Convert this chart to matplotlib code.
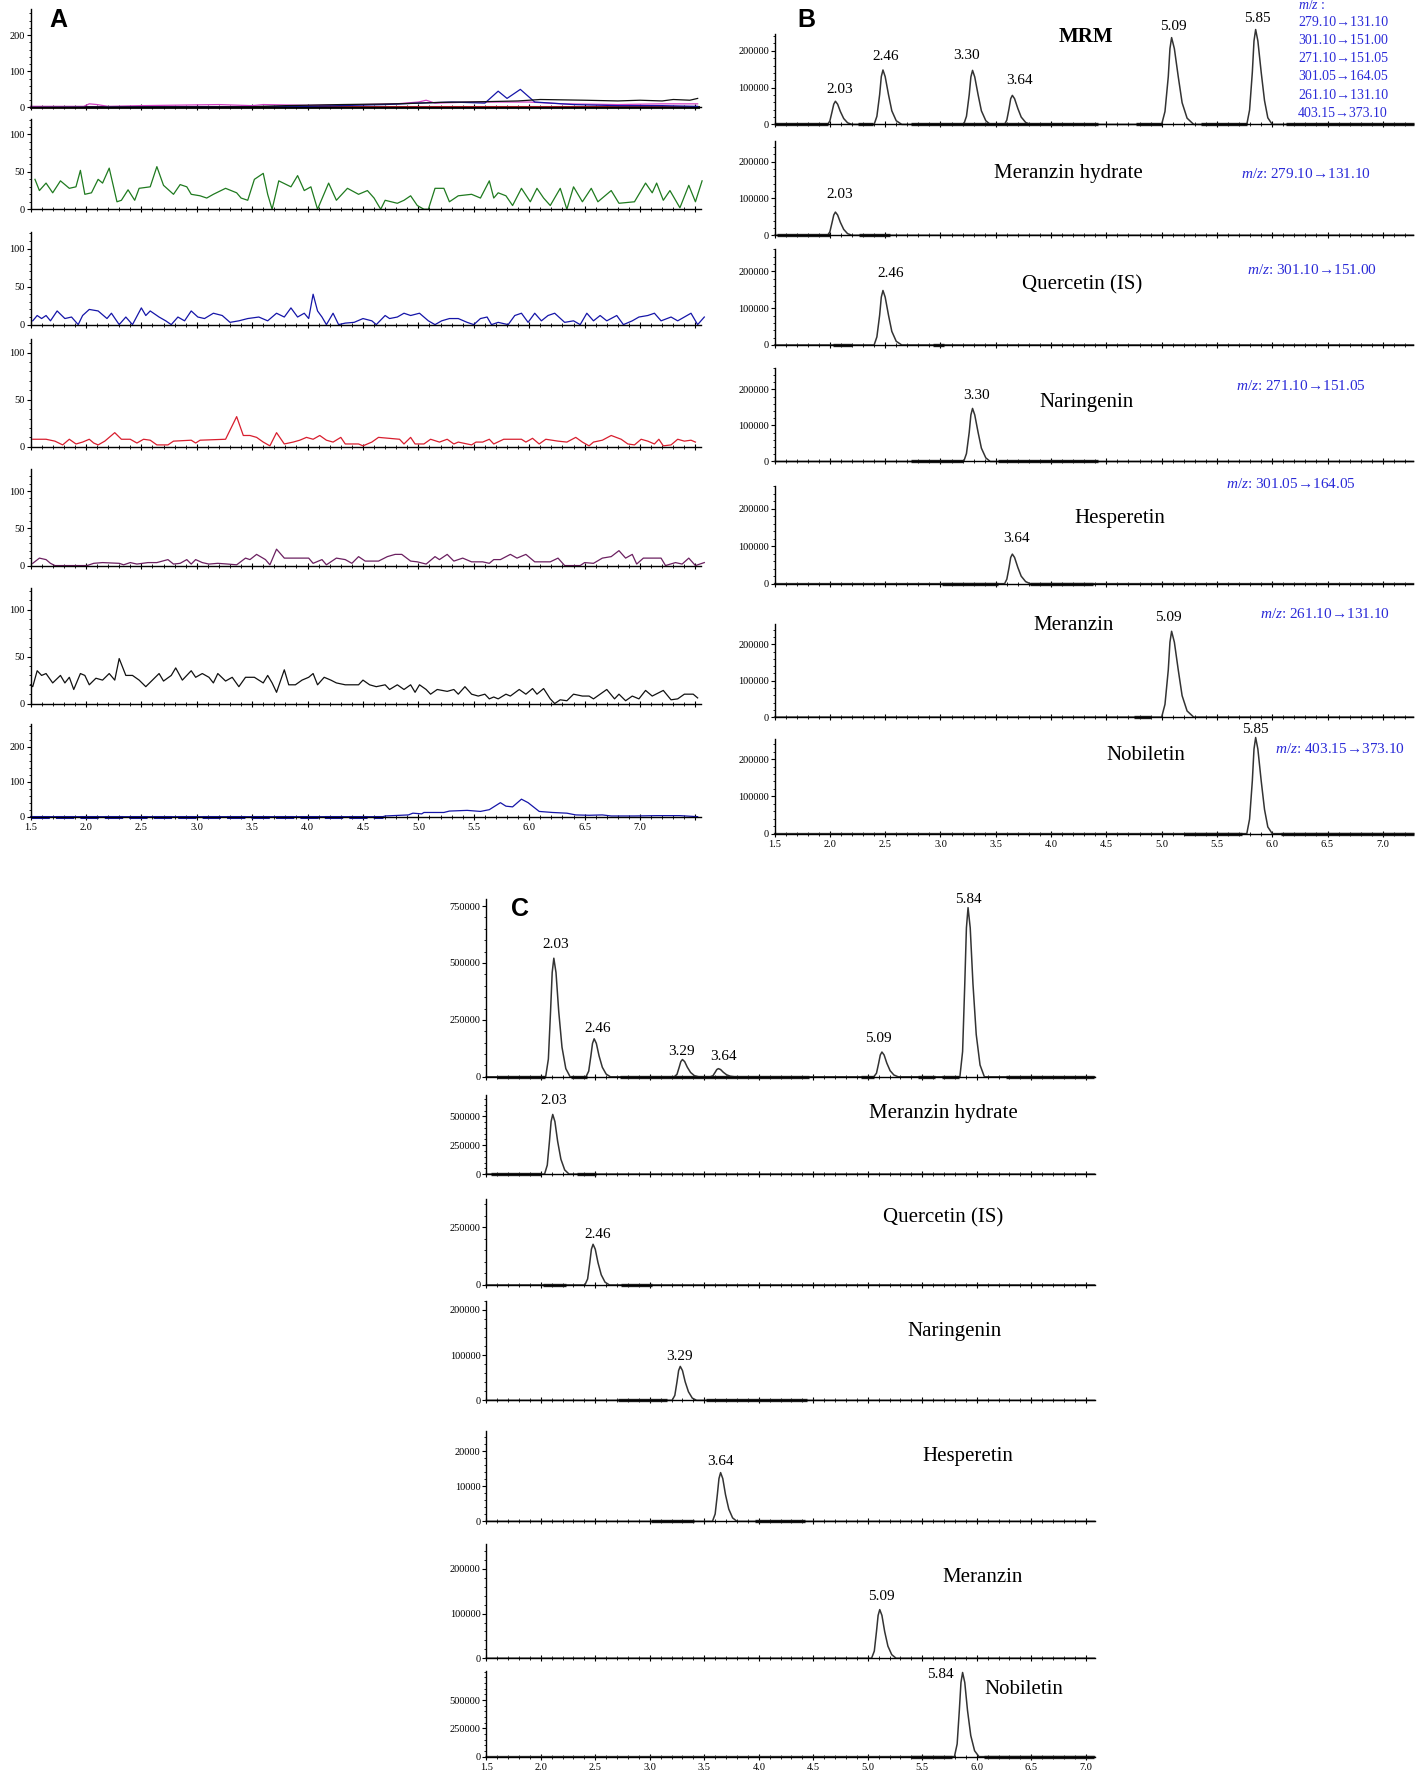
import numpy as np
import matplotlib
matplotlib.use('Agg')
import matplotlib.pyplot as plt
from matplotlib.ticker import MultipleLocator, AutoMinorLocator

plt.rcParams['font.family'] = ['Liberation Serif', 'DejaVu Serif']
plt.rcParams['mathtext.fontset'] = 'custom'
plt.rcParams['mathtext.it'] = 'Liberation Serif:italic'
plt.rcParams['mathtext.rm'] = 'Liberation Serif'

# ---------------- panel A: blank plasma traces (time, intensity) ----------------
a1_black_t = [1.5, 3.5, 3.8, 4.3, 4.8, 5.2, 5.6, 5.9, 6.1, 6.5, 6.8, 7.0, 7.2, 7.3, 7.45, 7.52]
a1_black_y = [0, 2, 5, 8, 10, 14, 16, 18, 22, 20, 18, 20, 18, 22, 20, 25]
a1_mag_t = [1.5, 1.98, 2.03, 2.1, 2.2, 2.5, 3.2, 3.5, 3.6, 4.0, 4.5, 4.8, 5.0, 5.07, 5.15, 5.5, 6.0, 6.3, 6.8, 7.2, 7.52]
a1_mag_y = [3, 3, 10, 8, 3, 5, 8, 5, 8, 6, 8, 10, 15, 20, 12, 15, 15, 10, 8, 10, 10]
a1_blue_t = [1.5, 3.0, 4.0, 4.7, 5.0, 5.3, 5.6, 5.72, 5.8, 5.92, 6.05, 6.4, 6.8, 7.2, 7.52]
a1_blue_y = [0, 2, 3, 8, 12, 15, 12, 45, 25, 50, 15, 8, 5, 5, 3]
a1_red_t = [1.5, 4.0, 5.0, 6.0, 7.52]
a1_red_y = [0, 1, 2, 2, 1]

a2_t = [1.54, 1.58, 1.64, 1.70, 1.77, 1.85, 1.91, 1.95, 1.99, 2.05, 2.11, 2.15, 2.21, 2.28, 2.32,
        2.38, 2.44, 2.48, 2.58, 2.64, 2.70, 2.79, 2.85, 2.91, 2.95, 3.03, 3.09, 3.15, 3.26, 3.36,
        3.40, 3.46, 3.52, 3.60, 3.64, 3.68, 3.74, 3.85, 3.91, 3.97, 4.03, 4.09, 4.19, 4.26, 4.36,
        4.46, 4.54, 4.60, 4.66, 4.70, 4.81, 4.87, 4.93, 4.99, 5.05, 5.09, 5.15, 5.23, 5.28, 5.36,
        5.48, 5.56, 5.64, 5.68, 5.72, 5.79, 5.85, 5.93, 6.01, 6.07, 6.13, 6.19, 6.28, 6.34, 6.40,
        6.48, 6.56, 6.62, 6.74, 6.81, 6.95, 7.05, 7.11, 7.15, 7.21, 7.27, 7.36, 7.44, 7.50, 7.56]
a2_y = [40, 25, 35, 22, 38, 28, 30, 52, 20, 22, 40, 35, 55, 10, 12,
        26, 12, 28, 30, 57, 32, 20, 33, 30, 20, 18, 15, 20, 28, 22,
        15, 12, 40, 48, 20, 0, 38, 30, 45, 25, 30, 0, 35, 12, 28,
        20, 25, 15, 0, 12, 8, 12, 18, 5, 0, 0, 28, 28, 10, 18,
        20, 15, 38, 15, 22, 18, 5, 28, 10, 28, 15, 5, 28, 0, 30,
        10, 28, 10, 25, 8, 10, 35, 22, 35, 12, 25, 2, 32, 10, 38]

a3_t = [1.52, 1.56, 1.60, 1.64, 1.68, 1.74, 1.81, 1.87, 1.93, 1.97, 2.03, 2.11, 2.19, 2.23, 2.30,
        2.36, 2.42, 2.50, 2.54, 2.58, 2.66, 2.72, 2.77, 2.83, 2.89, 2.95, 3.01, 3.07, 3.15, 3.23,
        3.30, 3.38, 3.46, 3.56, 3.64, 3.72, 3.79, 3.85, 3.91, 3.97, 4.01, 4.05, 4.09, 4.13, 4.17,
        4.23, 4.28, 4.34, 4.42, 4.50, 4.58, 4.62, 4.70, 4.74, 4.81, 4.87, 4.93, 5.01, 5.09, 5.15,
        5.21, 5.28, 5.36, 5.44, 5.50, 5.56, 5.62, 5.66, 5.72, 5.81, 5.87, 5.93, 5.99, 6.05, 6.11,
        6.17, 6.23, 6.32, 6.40, 6.46, 6.52, 6.58, 6.64, 6.70, 6.79, 6.85, 6.93, 6.99, 7.07, 7.13,
        7.19, 7.28, 7.34, 7.40, 7.46, 7.52, 7.58]
a3_y = [5, 12, 8, 12, 5, 18, 8, 10, 0, 12, 20, 18, 8, 15, 0,
        10, 0, 22, 12, 18, 10, 5, 0, 10, 5, 18, 10, 8, 15, 12,
        3, 5, 8, 10, 5, 15, 10, 22, 10, 15, 8, 40, 18, 10, 0,
        15, 0, 2, 3, 8, 5, 0, 12, 8, 10, 15, 12, 15, 5, 0,
        5, 8, 8, 3, 0, 8, 10, 0, 3, 0, 12, 15, 3, 15, 5,
        12, 15, 3, 5, 0, 15, 5, 12, 5, 12, 0, 5, 10, 12, 15,
        5, 10, 5, 10, 15, 0, 10]

a4_t = [1.52, 1.64, 1.72, 1.79, 1.85, 1.91, 1.97, 2.03, 2.07, 2.11, 2.17, 2.26, 2.32, 2.40, 2.46,
        2.52, 2.58, 2.64, 2.74, 2.79, 2.95, 2.99, 3.03, 3.26, 3.36, 3.42, 3.48, 3.54, 3.60, 3.66,
        3.72, 3.79, 3.87, 3.93, 3.99, 4.05, 4.11, 4.17, 4.23, 4.30, 4.34, 4.46, 4.50, 4.58, 4.64,
        4.83, 4.87, 4.93, 4.97, 5.05, 5.11, 5.19, 5.26, 5.32, 5.36, 5.48, 5.52, 5.58, 5.64, 5.68,
        5.77, 5.93, 5.97, 6.03, 6.09, 6.15, 6.26, 6.34, 6.42, 6.48, 6.54, 6.58, 6.66, 6.74, 6.83,
        6.89, 6.95, 7.01, 7.07, 7.13, 7.17, 7.21, 7.28, 7.34, 7.40, 7.46, 7.50]
a4_y = [8, 8, 6, 2, 8, 3, 5, 8, 4, 2, 6, 15, 8, 8, 4,
        8, 7, 2, 2, 6, 7, 4, 7, 8, 32, 12, 12, 10, 5, 1,
        15, 3, 5, 7, 10, 8, 12, 7, 5, 10, 3, 3, 1, 5, 10,
        8, 3, 10, 3, 3, 8, 5, 8, 3, 5, 2, 5, 5, 8, 3,
        8, 8, 5, 9, 3, 8, 6, 5, 10, 5, 1, 5, 7, 12, 8,
        3, 2, 8, 6, 3, 8, 1, 2, 8, 6, 7, 5]

a5_t = [1.52, 1.58, 1.64, 1.68, 1.72, 2.01, 2.07, 2.15, 2.30, 2.34, 2.40, 2.46, 2.56, 2.64, 2.74,
        2.79, 2.85, 2.91, 2.95, 2.99, 3.05, 3.11, 3.19, 3.28, 3.36, 3.44, 3.48, 3.54, 3.62, 3.66,
        3.72, 3.79, 4.01, 4.05, 4.13, 4.17, 4.26, 4.34, 4.40, 4.46, 4.52, 4.64, 4.72, 4.79, 4.85,
        4.93, 4.99, 5.07, 5.15, 5.19, 5.26, 5.32, 5.40, 5.48, 5.58, 5.64, 5.68, 5.74, 5.83, 5.89,
        5.97, 6.05, 6.19, 6.26, 6.32, 6.46, 6.50, 6.58, 6.66, 6.74, 6.81, 6.87, 6.93, 6.97, 7.03,
        7.19, 7.23, 7.32, 7.38, 7.44, 7.50, 7.58]
a5_y = [3, 10, 8, 3, 0, 0, 3, 4, 3, 1, 4, 2, 4, 4, 8,
        2, 3, 8, 2, 8, 4, 2, 3, 2, 1, 10, 8, 15, 8, 1,
        22, 10, 10, 3, 8, 1, 10, 8, 3, 12, 6, 6, 12, 15, 15,
        6, 5, 2, 12, 8, 15, 6, 10, 5, 5, 3, 8, 8, 15, 10,
        15, 5, 5, 10, 0, 0, 4, 3, 10, 12, 20, 10, 15, 2, 10,
        10, 0, 4, 2, 10, 0, 4]

a6_t = [1.50, 1.52, 1.56, 1.60, 1.64, 1.70, 1.77, 1.81, 1.85, 1.89, 1.95, 1.99, 2.03, 2.09, 2.15,
        2.21, 2.26, 2.30, 2.36, 2.42, 2.48, 2.54, 2.60, 2.66, 2.70, 2.77, 2.81, 2.87, 2.95, 2.99,
        3.05, 3.11, 3.15, 3.19, 3.26, 3.32, 3.38, 3.44, 3.52, 3.60, 3.64, 3.68, 3.72, 3.79, 3.83,
        3.89, 3.95, 4.01, 4.05, 4.09, 4.15, 4.21, 4.26, 4.34, 4.46, 4.50, 4.56, 4.62, 4.70, 4.74,
        4.81, 4.87, 4.93, 4.97, 5.01, 5.07, 5.11, 5.17, 5.26, 5.32, 5.36, 5.42, 5.48, 5.54, 5.60,
        5.64, 5.68, 5.72, 5.79, 5.83, 5.91, 5.97, 6.03, 6.07, 6.13, 6.19, 6.23, 6.28, 6.34, 6.40,
        6.48, 6.54, 6.58, 6.70, 6.77, 6.81, 6.87, 6.93, 6.99, 7.05, 7.11, 7.21, 7.28, 7.34, 7.40,
        7.48, 7.52]
a6_y = [20, 18, 35, 30, 32, 22, 30, 22, 28, 15, 32, 30, 20, 27, 25,
        32, 25, 48, 30, 30, 25, 18, 25, 32, 24, 30, 38, 25, 35, 28,
        32, 28, 22, 32, 24, 28, 18, 28, 28, 22, 30, 22, 12, 36, 20,
        20, 25, 28, 32, 20, 28, 25, 22, 20, 20, 25, 20, 18, 20, 15,
        20, 15, 20, 12, 20, 15, 10, 15, 13, 15, 10, 18, 10, 8, 10,
        5, 7, 5, 10, 8, 15, 10, 16, 10, 16, 5, 0, 4, 3, 10,
        8, 8, 5, 15, 5, 10, 3, 8, 5, 14, 8, 14, 4, 5, 10,
        10, 6]

a7_t = [1.5, 4.68, 4.70, 4.91, 4.95, 5.03, 5.05, 5.23, 5.28, 5.44, 5.56, 5.64, 5.74, 5.79, 5.85,
        5.93, 5.99, 6.09, 6.21, 6.34, 6.42, 6.54, 6.66, 6.74, 6.95, 7.15, 7.36, 7.52]
a7_y = [0, 0, 2, 5, 10, 8, 12, 12, 16, 18, 15, 20, 40, 30, 28,
        50, 40, 15, 12, 10, 5, 4, 5, 2, 2, 3, 3, 0]

# ---------------- panel B: standard solution peaks (time, intensity) ----------------
b_mh_t = [1.98, 2.00, 2.02, 2.035, 2.05, 2.07, 2.095, 2.125, 2.16, 2.20]
b_mh_y = [0, 9500, 35000, 55000, 63000, 55000, 35000, 16000, 4400, 0]
b_q_t = [2.40, 2.425, 2.45, 2.465, 2.48, 2.50, 2.53, 2.56, 2.60, 2.65]
b_q_y = [0, 22000, 81000, 130000, 148000, 130000, 81000, 37000, 10000, 0]
b_n_t = [3.21, 3.235, 3.26, 3.275, 3.29, 3.31, 3.34, 3.37, 3.41, 3.45]
b_n_y = [0, 22000, 81000, 129000, 147000, 129000, 81000, 37000, 10000, 0]
b_h_t = [3.58, 3.60, 3.62, 3.635, 3.65, 3.67, 3.70, 3.73, 3.77, 3.81]
b_h_y = [0, 12000, 43000, 70000, 79000, 70000, 43000, 20000, 5500, 0]
b_m_t = [5.00, 5.03, 5.06, 5.075, 5.09, 5.115, 5.15, 5.185, 5.23, 5.29]
b_m_y = [0, 35000, 130000, 206000, 236000, 206000, 130000, 59000, 17000, 0]
b_nob_t = [5.77, 5.795, 5.82, 5.835, 5.85, 5.87, 5.90, 5.93, 5.96, 6.00]
b_nob_y = [0, 39000, 142000, 227000, 258000, 227000, 142000, 65000, 18000, 0]

# ---------------- panel C: plasma sample peaks ----------------
c_mrm1_t = [2.045, 2.07, 2.09, 2.105, 2.12, 2.14, 2.165, 2.195, 2.23, 2.27]
c_mrm1_y = [0, 78000, 287000, 458000, 521000, 458000, 287000, 130000, 36000, 0]
c_mrm2_t = [2.415, 2.44, 2.46, 2.475, 2.49, 2.51, 2.535, 2.565, 2.60, 2.64]
c_mrm2_y = [0, 25000, 92000, 147000, 167000, 147000, 92000, 42000, 12000, 0]
c_mrm3_t = [3.225, 3.25, 3.27, 3.285, 3.30, 3.32, 3.345, 3.375, 3.41, 3.45]
c_mrm3_y = [0, 11000, 42000, 67000, 76000, 67000, 42000, 19000, 5000, 0]
c_mrm4_t = [3.555, 3.58, 3.60, 3.615, 3.63, 3.65, 3.675, 3.705, 3.74, 3.78]
c_mrm4_y = [0, 5000, 20000, 32000, 36000, 32000, 20000, 9000, 2500, 0]
c_mrm5_t = [5.055, 5.08, 5.10, 5.115, 5.13, 5.15, 5.175, 5.205, 5.24, 5.28]
c_mrm5_y = [0, 16000, 60000, 96000, 109000, 96000, 60000, 27000, 8000, 0]
c_mrm6_t = [5.845, 5.87, 5.89, 5.905, 5.92, 5.94, 5.965, 5.995, 6.03, 6.07]
c_mrm6_y = [0, 111000, 409000, 654000, 743000, 654000, 409000, 186000, 52000, 0]

c_mh_t = [2.035, 2.06, 2.08, 2.095, 2.11, 2.13, 2.155, 2.185, 2.22, 2.26]
c_mh_y = [0, 78000, 284000, 455000, 517000, 455000, 284000, 129000, 36000, 0]
c_q_t = [2.405, 2.43, 2.45, 2.465, 2.48, 2.50, 2.525, 2.555, 2.59, 2.63]
c_q_y = [0, 26000, 97000, 155000, 176000, 155000, 97000, 44000, 12000, 0]
c_n_t = [3.205, 3.23, 3.25, 3.265, 3.28, 3.30, 3.325, 3.355, 3.39, 3.43]
c_n_y = [0, 11000, 41000, 66000, 75000, 66000, 41000, 19000, 5000, 0]
c_h_t = [3.575, 3.60, 3.62, 3.635, 3.65, 3.67, 3.695, 3.725, 3.76, 3.80]
c_h_y = [0, 2100, 7600, 12200, 13900, 12200, 7600, 3500, 1000, 0]
c_m_t = [5.035, 5.06, 5.08, 5.095, 5.11, 5.13, 5.155, 5.185, 5.22, 5.26]
c_m_y = [0, 16000, 60000, 96000, 109000, 96000, 60000, 27000, 8000, 0]
c_nob_t = [5.795, 5.82, 5.84, 5.855, 5.87, 5.89, 5.915, 5.945, 5.98, 6.02]
c_nob_y = [0, 112000, 409000, 655000, 744000, 655000, 409000, 186000, 52000, 0]

# thick baseline segments (time ranges of acquisition windows)
b_seg = [[(1.5, 1.98), (2.25, 2.39), (2.73, 4.42), (4.77, 5.0), (5.36, 5.77), (6.12, 7.28)],
         [(1.52, 2.0), (2.26, 2.54)],
         [(2.03, 2.2), (2.93, 3.03)],
         [(2.73, 3.2), (3.52, 4.42)],
         [(3.01, 3.52), (3.81, 4.38)],
         [(4.75, 4.9)],
         [(5.2, 5.73), (6.08, 7.28)]]
c_seg = [[(1.6, 2.04), (2.28, 2.42), (2.73, 4.46), (4.94, 5.06), (5.46, 5.62), (5.68, 5.84), (6.27, 7.08)],
         [(1.54, 2.0), (2.33, 2.51)],
         [(2.02, 2.23), (2.74, 3.02)],
         [(2.71, 3.16), (3.52, 4.44)],
         [(3.01, 3.41), (3.97, 4.42)],
         [],
         [(5.40, 5.77), (6.07, 7.08)]]

compounds = ['Meranzin hydrate', 'Quercetin (IS)', 'Naringenin', 'Hesperetin', 'Meranzin', 'Nobiletin']
transitions = ['279.10\u2192131.10', '301.10\u2192151.00', '271.10\u2192151.05',
               '301.05\u2192164.05', '261.10\u2192131.10', '403.15\u2192373.10']
b_rt_labels = ['2.03', '2.46', '3.30', '3.64', '5.09', '5.85']
c_rt_labels = ['2.03', '2.46', '3.29', '3.64', '5.09', '5.84']
x_labels = ['1.5', '2.0', '2.5', '3.0', '3.5', '4.0', '4.5', '5.0', '5.5', '6.0', '6.5', '7.0']

# layout in reference pixels
W, H = 1254.0, 1571.0
PEAK = '#333333'


def box(left, right, zero, top):
  return [left / W, 1 - zero / H, (right - left) / W, (zero - top) / H]


def style(ax, xmax, ytop, yticks, show_x):
  ax.set_xlim(1.5, xmax)
  ax.set_ylim(0, ytop)
  for s in ['top', 'right']:
    ax.spines[s].set_visible(False)
  for s in ['left', 'bottom']:
    ax.spines[s].set_linewidth(1.0)
  ax.set_facecolor('none')
  ax.set_xticks(np.arange(1.5, xmax + 0.001, 0.5))
  ax.xaxis.set_minor_locator(MultipleLocator(0.1))
  ax.set_yticks(yticks)
  ax.set_yticklabels([str(v) for v in yticks])
  ax.yaxis.set_minor_locator(AutoMinorLocator(5))
  ax.tick_params(axis='x', which='major', direction='inout', length=5, width=0.8, labelsize=7.5, pad=2)
  ax.tick_params(axis='x', which='minor', direction='inout', length=3, width=0.6)
  ax.tick_params(axis='y', which='major', direction='out', length=3, width=0.8, labelsize=7.5, pad=1)
  ax.tick_params(axis='y', which='minor', direction='out', length=1.5, width=0.6)
  if show_x:
    n = len(ax.get_xticks())
    ax.set_xticklabels((x_labels + [''] * n)[:n])
  else:
    ax.tick_params(axis='x', labelbottom=False)


def trace(peaks, x0, x1):
  t = [x0]
  y = [0]
  for pt, py in peaks:
    t += pt
    y += py
  t.append(x1)
  y.append(0)
  return t, y


def txt(fig, s, x, y, **kw):
  fig.text(x / W, 1 - y / H, s, ha=kw.pop('ha', 'center'), va=kw.pop('va', 'center'), **kw)


fig = plt.figure(figsize=(14.18, 17.77), dpi=100)

# ---------------- A ----------------
a_x1 = 1.5 + (620 - 27) / 98.0
a_boxes = [(95, 8, 272, [0, 100, 200]), (185, 105, 121, [0, 50, 100]), (287, 205, 122, [0, 50, 100]),
           (395, 300, 114, [0, 50, 100]), (500, 415, 129, [0, 50, 100]), (622, 520, 123, [0, 50, 100]),
           (722, 640, 265, [0, 100, 200])]
a_lines = [
  [(a1_red_t, a1_red_y, '#d81e2e'), (a1_mag_t, a1_mag_y, '#d040c0'),
   (a1_blue_t, a1_blue_y, '#1515a8'), (a1_black_t, a1_black_y, '#111111')],
  [(a2_t, a2_y, '#1f7a1f')],
  [(a3_t, a3_y, '#1515a8')],
  [(a4_t, a4_y, '#d81e2e')],
  [(a5_t, a5_y, '#6b2060')],
  [(a6_t, a6_y, '#111111')],
  [(a7_t, a7_y, '#1515a8')],
]
for i, (zero, top, ytop, yt) in enumerate(a_boxes):
  ax = fig.add_axes(box(27, 620, zero, top))
  style(ax, a_x1, ytop, yt, i == 6)
  for t, y, c in a_lines[i]:
    ax.plot(t, y, color=c, lw=0.9, clip_on=False)
  if i == 0:
    ax.plot([1.5, 7.52], [0, 0], color='#202020', lw=2.2, clip_on=False, zorder=1)
  if i == 6:
    ax.plot([1.5, 4.68], [0, 0], color='#1515a8', lw=2.2, ls=(0, (6, 2)), clip_on=False)

# ---------------- B ----------------
b_x1 = 1.5 + (1250 - 685) / 97.8
b_peaks = [(b_mh_t, b_mh_y), (b_q_t, b_q_y), (b_n_t, b_n_y), (b_h_t, b_h_y), (b_m_t, b_m_y), (b_nob_t, b_nob_y)]
b_boxes = [(110, 30, 246000), (208, 125, 255000), (305, 220, 261000), (408, 325, 260000),
           (516, 430, 260000), (634, 552, 255000), (737, 653, 255000)]
for i, (zero, top, ytop) in enumerate(b_boxes):
  ax = fig.add_axes(box(685, 1250, zero, top))
  style(ax, b_x1, ytop, [0, 100000, 200000], i == 6)
  pk = b_peaks if i == 0 else [b_peaks[i - 1]]
  t, y = trace(pk, 1.5, b_x1)
  ax.plot(t, y, color=PEAK, lw=1.1, clip_on=False)
  for a, b in b_seg[i]:
    ax.plot([a, b], [0, 0], color='#202020', lw=2.4, solid_capstyle='butt', clip_on=False)

# ---------------- C ----------------
c_x1 = 1.5 + (968 - 430) / 96.4
c_mrm = [(c_mrm1_t, c_mrm1_y), (c_mrm2_t, c_mrm2_y), (c_mrm3_t, c_mrm3_y),
         (c_mrm4_t, c_mrm4_y), (c_mrm5_t, c_mrm5_y), (c_mrm6_t, c_mrm6_y)]
c_single = [(c_mh_t, c_mh_y), (c_q_t, c_q_y), (c_n_t, c_n_y), (c_h_t, c_h_y), (c_m_t, c_m_y), (c_nob_t, c_nob_y)]
c_boxes = [(952, 795, 780000, [0, 250000, 500000, 750000]), (1038, 968, 686000, [0, 250000, 500000]),
           (1136, 1060, 372000, [0, 250000]), (1238, 1150, 220000, [0, 100000, 200000]),
           (1345, 1265, 25800, [0, 10000, 20000]), (1466, 1365, 256000, [0, 100000, 200000]),
           (1553, 1477, 760000, [0, 250000, 500000])]
for i, (zero, top, ytop, yt) in enumerate(c_boxes):
  ax = fig.add_axes(box(430, 968, zero, top))
  style(ax, c_x1, ytop, yt, i == 6)
  pk = c_mrm if i == 0 else [c_single[i - 1]]
  t, y = trace(pk, 1.5, c_x1)
  ax.plot(t, y, color=PEAK, lw=1.1, clip_on=False)
  for a, b in c_seg[i]:
    ax.plot([a, b], [0, 0], color='#202020', lw=2.4, solid_capstyle='butt', clip_on=False)

# ---------------- texts ----------------
letter = dict(fontsize=18, fontweight='bold', family=['Liberation Sans', 'DejaVu Sans'])
txt(fig, 'A', 52, 18, **letter)
txt(fig, 'B', 713, 18, **letter)
txt(fig, 'C', 460, 804, **letter)

blue = '#2a2ad8'
txt(fig, 'MRM', 960, 33, fontsize=15, fontweight='bold')
txt(fig, r'$m/z$ :', 1148, 4, fontsize=10, color=blue, ha='left')
for k, s in enumerate(transitions):
  txt(fig, s, 1148, 20 + 16 * k, fontsize=10, color=blue, ha='left')

b_name_xy = [(945, 153), (957, 252), (961, 356), (990, 458), (949, 553), (1013, 668)]
b_mz_xy = [(1155, 154), (1160, 239), (1150, 341), (1142, 428), (1172, 543), (1185, 662)]
for k in range(6):
  txt(fig, compounds[k], *b_name_xy[k], fontsize=15)
  txt(fig, r'$m/z$: ' + transitions[k], *b_mz_xy[k], fontsize=11, color=blue)

b_mrm_lab = [(743, 79), (783, 50), (855, 49), (902, 71), (1038, 23), (1112, 16)]
b_one_lab = [(743, 172), (788, 242), (864, 350), (899, 476), (1033, 546), (1110, 645)]
for k in range(6):
  txt(fig, b_rt_labels[k], *b_mrm_lab[k], fontsize=11)
  txt(fig, b_rt_labels[k], *b_one_lab[k], fontsize=11)

c_name_xy = [(834, 984), (834, 1077), (844, 1177), (856, 1288), (869, 1395), (905, 1494)]
c_mrm_lab = [(491, 835), (529, 909), (603, 930), (640, 934), (777, 918), (856, 795)]
c_one_lab = [(490, 973), (529, 1091), (601, 1199), (637, 1292), (779, 1411), (832, 1480)]
for k in range(6):
  txt(fig, compounds[k], *c_name_xy[k], fontsize=15)
  txt(fig, c_rt_labels[k], *c_mrm_lab[k], fontsize=11)
  txt(fig, c_rt_labels[k], *c_one_lab[k], fontsize=11)

fig.savefig('out.png', dpi=100, facecolor='white')
